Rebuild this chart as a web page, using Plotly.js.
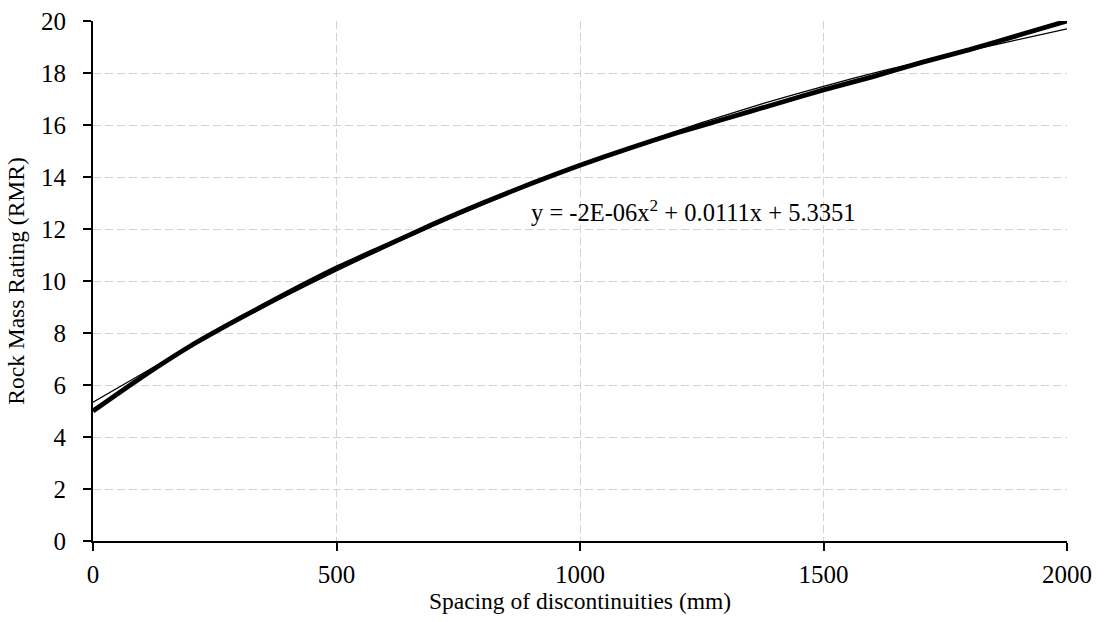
<!DOCTYPE html>
<html>
<head>
<meta charset="utf-8">
<script src="https://cdn.plot.ly/plotly-3.0.1.min.js"></script>
<style>html,body{margin:0;padding:0;background:#fff;}#chart{width:1106px;height:622px;}</style>
</head>
<body>
<div id="chart"></div>
<script>
// Data series
const spacing = [0, 100, 200, 300, 400, 500, 600, 700, 800, 900, 1000, 1100, 1200, 1300, 1400, 1500, 1600, 1700, 1800, 1900, 2000];
const rmr = [5.0, 6.3, 7.5, 8.55, 9.55, 10.5, 11.35, 12.2, 13.0, 13.75, 14.45, 15.1, 15.7, 16.25, 16.8, 17.35, 17.85, 18.4, 18.9, 19.45, 20.0];

// Trendline as drawn
const trendX = [0, 125, 250, 375, 500, 625, 750, 875, 1000, 1125, 1250, 1375, 1500, 1625, 1750, 1875, 2000];
const trendY = [5.34, 6.69, 7.99, 9.22, 10.39, 11.49, 12.54, 13.52, 14.44, 15.29, 16.09, 16.82, 17.49, 18.1, 18.65, 19.18, 19.7];

const equationText = "y = -2E-06x<sup>2</sup> + 0.0111x + 5.3351";
const xTitle = "Spacing of discontinuities (mm)";
const yTitle = "Rock Mass Rating (RMR)";
const xTicks = [0, 500, 1000, 1500, 2000];
const yTicks = [0, 2, 4, 6, 8, 10, 12, 14, 16, 18, 20];

const font = "'Times New Roman', 'Liberation Serif', 'DejaVu Serif', serif";

const traces = [
  {x: spacing, y: rmr, type: "scatter", mode: "lines", line: {color: "#000", width: 4.8, shape: "spline", smoothing: 0.6}, hoverinfo: "skip"},
  {x: trendX, y: trendY, type: "scatter", mode: "lines", line: {color: "#000", width: 1.3, shape: "spline", smoothing: 0.6}, hoverinfo: "skip"}
];

const gridColor = "#d3d3d3";
const layout = {
  width: 1106, height: 622,
  margin: {l: 93, r: 39, t: 21, b: 81, pad: 0},
  paper_bgcolor: "#fff", plot_bgcolor: "#fff",
  showlegend: false,
  font: {family: font, color: "#000"},
  xaxis: {
    range: [0, 2000], tickvals: xTicks, ticktext: xTicks.map(String),
    showline: true, linecolor: "#000", linewidth: 2,
    ticks: "outside", ticklen: 8, tickwidth: 2, tickcolor: "#000",
    showgrid: true, gridcolor: gridColor, gridwidth: 1, griddash: "8px,4px",
    zeroline: false, tickfont: {family: font, size: 25, color: "#000"},
    ticklabelstandoff: 2,
    title: {text: xTitle, font: {family: font, size: 23.5, color: "#000"}, standoff: 4}
  },
  yaxis: {
    range: [0, 20], tickvals: yTicks, ticktext: yTicks.map(String),
    showline: true, linecolor: "#000", linewidth: 2,
    ticks: "outside", ticklen: 8, tickwidth: 2, tickcolor: "#000",
    showgrid: true, gridcolor: gridColor, gridwidth: 1, griddash: "8px,4px",
    zeroline: false, tickfont: {family: font, size: 25, color: "#000"},
    ticklabelstandoff: 12,
    title: {text: yTitle, font: {family: font, size: 23.5, color: "#000"}, standoff: 10}
  },
  annotations: [{
    x: 1234, y: 12.7, xref: "x", yref: "y", text: equationText, showarrow: false,
    xanchor: "center", yanchor: "middle",
    font: {family: font, size: 24.5, color: "#000"}
  }]
};

Plotly.newPlot("chart", traces, layout, {staticPlot: true, displayModeBar: false});
</script>
</body>
</html>
